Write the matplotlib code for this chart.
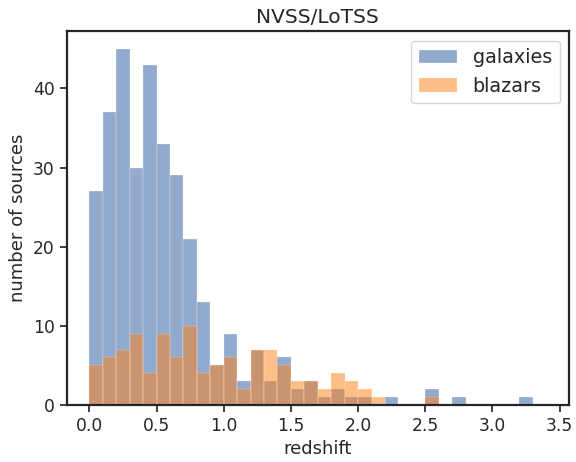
import numpy as np
import matplotlib
matplotlib.use("Agg")
import matplotlib.pyplot as plt
import seaborn as sns

bin_edges = np.round(np.arange(0, 3.45, 0.1), 2)  # 0.0 ... 3.4
galaxies = [27, 37, 45, 30, 43, 33, 29, 21, 13, 5,
            9, 3, 7, 3, 6, 2, 3, 1, 2, 1,
            1, 0, 1, 0, 0, 2, 0, 1, 0, 0,
            0, 0, 1, 0]
blazars = [5, 6, 7, 9, 4, 9, 6, 10, 4, 5,
           6, 2, 7, 7, 5, 3, 3, 2, 4, 3,
           2, 1, 0, 0, 0, 1, 0, 0, 0, 0,
           0, 0, 0, 0]

sns.set_theme(style="ticks")
plt.rcParams['font.family'] = ['DejaVu Sans']

fig = plt.figure(figsize=(5.76, 4.62), dpi=100)
ax = fig.add_axes([0.1155, 0.1234, 0.8725, 0.8096])

centers = (bin_edges[:-1] + bin_edges[1:]) / 2
ax.hist(centers, bins=bin_edges, weights=galaxies, color="#4c72b0", alpha=0.6,
        label="galaxies", edgecolor="white", linewidth=0.3)
ax.hist(centers, bins=bin_edges, weights=blazars, color="#ff7f0e", alpha=0.5,
        label="blazars", edgecolor="white", linewidth=0.3)

ax.set_xlim(-0.17, 3.57)
ax.set_xticks([0.0, 0.5, 1.0, 1.5, 2.0, 2.5, 3.0, 3.5])
ax.set_yticks([0, 10, 20, 30, 40])
ax.tick_params(labelsize=12.3, length=5, width=1.25, colors="#262626")
for s in ax.spines.values():
    s.set_linewidth(1.6)
    s.set_color("#262626")
ax.set_xlabel("redshift", fontsize=13, color="#262626")
ax.set_ylabel("number of sources", fontsize=13, color="#262626")
ax.set_title("NVSS/LoTSS", fontsize=14.5, color="#262626")
ax.legend(loc="upper right", fontsize=13.8)

fig.savefig("out.png", dpi=100)
